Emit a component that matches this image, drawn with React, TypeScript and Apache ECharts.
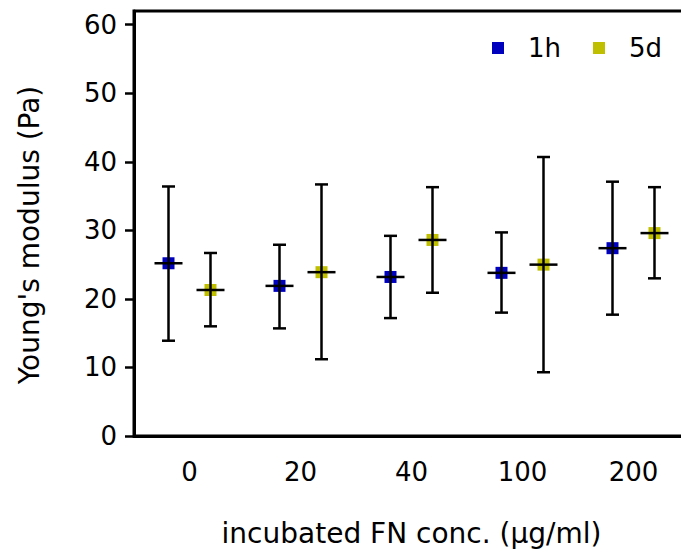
import React, { useEffect, useRef } from "react";
import * as echarts from "echarts";

const categories = ["0", "20", "40", "100", "200"];
const mean1h = [25.2, 21.9, 23.2, 23.8, 27.4];
const upper1h = [36.4, 27.9, 29.2, 29.7, 37.1];
const lower1h = [13.9, 15.7, 17.2, 18.0, 17.7];
const mean5d = [21.3, 23.9, 28.6, 25.0, 29.6];
const upper5d = [26.7, 36.7, 36.3, 40.7, 36.3];
const lower5d = [16.0, 11.2, 20.9, 9.3, 23.0];
const yTicks = [0, 10, 20, 30, 40, 50, 60];

const FONT = "DejaVu Sans";
const BLUE = "#0000BF";
const YELLOW = "#BFBF00";
const OFFSET = 21;

function errData(mean: number[], lo: number[], hi: number[]) {
  return mean.map((m, i) => [i, m, lo[i], hi[i]]);
}

function makeRender(offset: number) {
  return (params: any, api: any) => {
    const i = api.value(0);
    const c = api.coord([i, api.value(1)]);
    const lo = api.coord([i, api.value(2)]);
    const hi = api.coord([i, api.value(3)]);
    const x = c[0] + offset;
    const st = { stroke: "#000", lineWidth: 2.5 };
    return {
      type: "group",
      children: [
        { type: "line", shape: { x1: x, y1: hi[1], x2: x, y2: lo[1] }, style: st },
        { type: "line", shape: { x1: x - 6.5, y1: hi[1], x2: x + 6.5, y2: hi[1] }, style: st },
        { type: "line", shape: { x1: x - 6.5, y1: lo[1], x2: x + 6.5, y2: lo[1] }, style: st },
        { type: "line", shape: { x1: x - 14, y1: c[1], x2: x + 14, y2: c[1] }, style: st },
      ],
    };
  };
}

export default function App() {
  const ref = useRef<HTMLDivElement>(null);
  useEffect(() => {
    const chart = echarts.init(ref.current!, null, { renderer: "svg" });
    chart.setOption({
      animation: false,
      grid: {
        left: 134,
        top: 11,
        width: 555,
        height: 425,
        outerBoundsMode: "none",
        containLabel: false,
        show: true,
        borderColor: "#000",
        borderWidth: 3,
      },
      legend: {
        data: ["1h", "5d"],
        left: 487,
        top: 30,
        itemWidth: 12,
        itemHeight: 12,
        itemGap: 32,
        textStyle: {
          fontFamily: FONT,
          fontSize: 26,
          color: "#000",
          lineHeight: 26,
          padding: [0, 0, 0, 19],
        },
      },
      xAxis: {
        type: "category",
        data: categories,
        boundaryGap: true,
        name: "incubated FN conc. (µg/ml)",
        nameLocation: "middle",
        nameGap: 83,
        nameTextStyle: { fontFamily: FONT, fontSize: 28, color: "#000", lineHeight: 28 },
        axisLine: { lineStyle: { color: "#000", width: 3 } },
        axisTick: { alignWithLabel: true, length: 7, lineStyle: { color: "#000", width: 3 } },
        axisLabel: { fontFamily: FONT, fontSize: 26, color: "#000", margin: 23 },
        splitLine: { show: false },
      },
      yAxis: {
        type: "value",
        min: 0,
        max: 62,
        interval: 10,
        axisLine: { show: true, lineStyle: { color: "#000", width: 3 } },
        axisTick: {
          show: true,
          length: 9,
          lineStyle: { color: "#000", width: 2.5 },
          customValues: yTicks,
        },
        axisLabel: {
          fontFamily: FONT,
          fontSize: 26,
          color: "#000",
          margin: 17,
          customValues: yTicks,
        },
        splitLine: { show: false },
      },
      graphic: [
        {
          type: "text",
          x: 29,
          y: 235,
          rotation: Math.PI / 2,
          style: {
            text: "Young's modulus (Pa)",
            font: `28px "${FONT}"`,
            fill: "#000",
            align: "center",
            verticalAlign: "middle",
          },
        },
      ],
      series: [
        {
          name: "1h",
          type: "scatter",
          symbol: "rect",
          symbolSize: 12,
          symbolOffset: [-OFFSET, 0],
          itemStyle: { color: BLUE, opacity: 1 },
          data: mean1h,
          z: 2,
        },
        {
          name: "5d",
          type: "scatter",
          symbol: "rect",
          symbolSize: 12,
          symbolOffset: [OFFSET, 0],
          itemStyle: { color: YELLOW, opacity: 1 },
          data: mean5d,
          z: 2,
        },
        {
          type: "custom",
          renderItem: makeRender(-OFFSET),
          data: errData(mean1h, lower1h, upper1h),
          z: 5,
          silent: true,
        },
        {
          type: "custom",
          renderItem: makeRender(OFFSET),
          data: errData(mean5d, lower5d, upper5d),
          z: 5,
          silent: true,
        },
      ],
    });
    return () => chart.dispose();
  }, []);
  return (
    <div
      ref={ref}
      style={{ position: "fixed", left: 0, top: 0, width: 681, height: 555, background: "#fff" }}
    />
  );
}
